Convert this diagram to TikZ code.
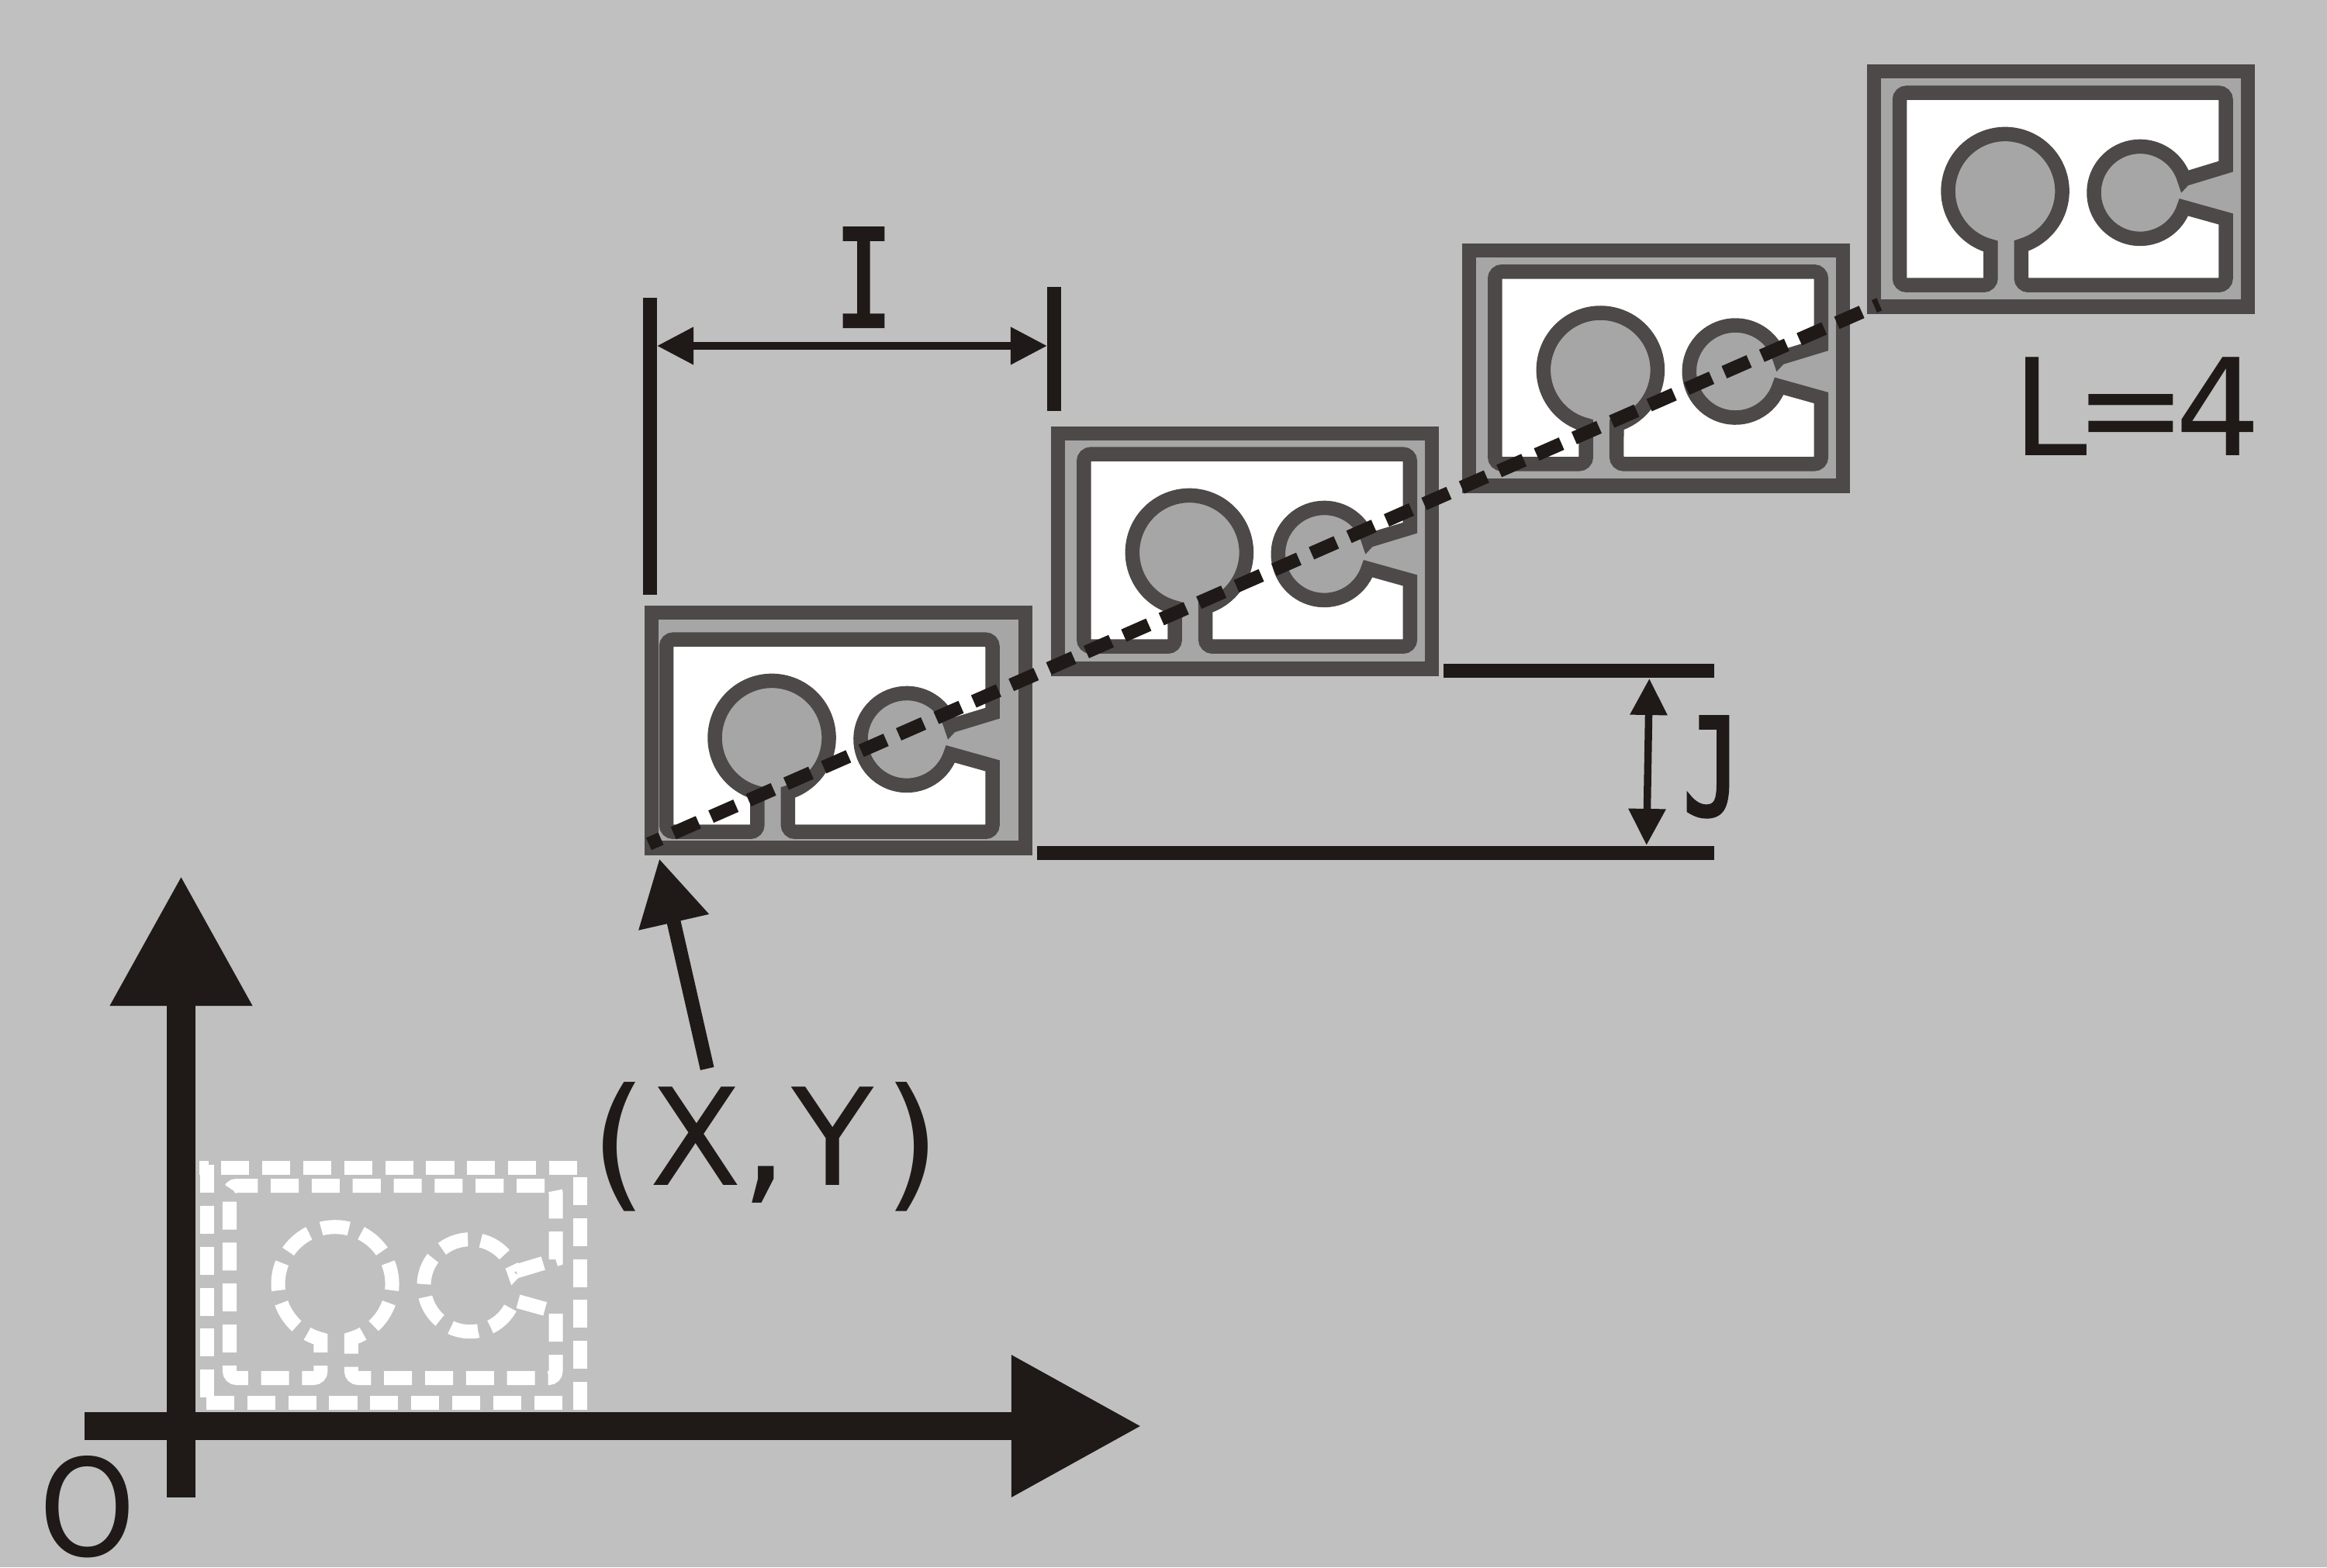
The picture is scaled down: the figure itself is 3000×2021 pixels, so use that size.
\documentclass[tikz,border=0pt]{standalone}
\usepackage{fontspec}
\usetikzlibrary{arrows.meta}
\setmainfont{DejaVu Sans}
\newfontfamily\slabfont[FakeStretch=0.7,FakeBold=2.5]{DejaVu Sans Mono}
\definecolor{bgcol}{HTML}{C0C0C0}
\definecolor{inkcol}{HTML}{1F1A17}
\definecolor{framecol}{HTML}{4D4948}
\definecolor{slotcol}{HTML}{A6A6A6}
\tikzset{
  smalltip/.tip={Triangle[length=0.47cm,width=0.46cm]},
  midtip/.tip={Triangle[length=0.84cm,width=0.88cm]},
  bigtip/.tip={Triangle[length=1.68cm,width=1.73cm]},
  inkline/.style={draw=inkcol,line width=0.18cm},
  label/.style={text=inkcol,inner sep=0pt,outer sep=0pt,font=\fontsize{49.45}{60}\selectfont},
  whitedash/.style={draw=white,line width=0.18cm,dash pattern=on 0.36cm off 0.168cm},
}
\newcommand{\ringpath}{(375.9,145.7) -- (429.5,162) -- (429.5,248) arc[start angle=0,end angle=90,radius=9] -- (18,257) arc[start angle=90,end angle=180,radius=9] -- (9,18) arc[start angle=180,end angle=270,radius=9] -- (117.4,9) arc[start angle=270,end angle=360,radius=9] -- (126.4,59.2) arc[start angle=255.3,end angle=-73.5,radius=73.5] -- (165.9,18) arc[start angle=180,end angle=270,radius=9] -- (420.5,9) arc[start angle=270,end angle=360,radius=9] -- (429.5,94.3) -- (375.4,109.4) arc[start angle=-18.5,end angle=-343,radius=59.5] -- cycle}
\newcommand{\slotcell}[4]{%
  \fill[slotcol] (#1,#2) rectangle ++(500,321.7);
  \begin{scope}[shift={(#3,#4)},x=0.01cm,y=0.01cm]
    \filldraw[fill=white,draw=framecol,line width=0.185cm,miter limit=10] \ringpath;
  \end{scope}
  \draw[framecol,line width=0.183cm] (#1+9.15,#2+9.15) rectangle ++(481.7,303.4);
}
\begin{document}
\begin{tikzpicture}[x=0.01cm,y=-0.01cm]
\fill[bgcol] (0,0) rectangle (3000,2021);
\useasboundingbox (0,0) rectangle (3000,2021);

% cells
\slotcell{831}{781}{850}{1081.7}
\slotcell{1355}{550}{1388.3}{842.7}
\slotcell{1885}{314}{1918.3}{607.3}
\slotcell{2407}{83}{2440}{376.7}

% white dashed outline
\draw[whitedash] (266.6,1502) -- (266.6,1803);
\draw[whitedash] (266,1809) -- (750,1809);
\draw[whitedash] (748,1818) -- (748,1506);
\draw[whitedash] (744,1506) -- (257,1506);
\begin{scope}[shift={(287,1786)},x=0.01cm,y=0.01cm]
  \draw[whitedash,dash phase=0.498cm,miter limit=10] \ringpath;
\end{scope}

% dashed line through the cells
\coordinate (linestart) at (836.4,1088.3);
\coordinate (lineend) at (2422.8,392.3);
\draw[draw=inkcol,line width=0.173cm,dash pattern=on 0.35cm off 0.178cm,dash phase=0.18cm] (linestart) -- (lineend);

% axes
\coordinate (yfoot) at (233.5,1930.7);
\coordinate (ytip) at (233.5,1129);
\coordinate (xfoot) at (109,1839);
\coordinate (xtip) at (1472,1839);
\draw[draw=inkcol,line width=0.37cm,-{bigtip}] (yfoot) -- (ytip);
\draw[draw=inkcol,line width=0.36cm,-{bigtip}] (xfoot) -- (xtip);

% pointer to (X,Y)
\coordinate (ptail) at (911.7,1378);
\coordinate (ptip) at (850,1107.3);
\draw[inkline,-{midtip}] (ptail) -- (ptip);

% I dimension
\coordinate (ia) at (838,384);
\coordinate (ib) at (838,766.7);
\coordinate (ic) at (1359,370);
\coordinate (id) at (1359,530);
\coordinate (ie) at (847,446);
\coordinate (if) at (1350,446);
\draw[inkline] (ia) -- (ib);
\draw[inkline] (ic) -- (id);
\draw[draw=inkcol,line width=0.1cm,{smalltip}-{smalltip}] (ie) -- (if);

% J dimension
\coordinate (ja) at (1861,865);
\coordinate (jb) at (2210,865);
\coordinate (jc) at (1337,1099.5);
\coordinate (jd) at (2210,1099.5);
\coordinate (je) at (2126.3,875);
\coordinate (jf) at (2122.7,1090);
\draw[inkline] (ja) -- (jb);
\draw[inkline] (jc) -- (jd);
\draw[draw=inkcol,line width=0.095cm,{smalltip}-{smalltip}] (je) -- (jf);

% labels
\node[label,anchor=base] (ilabel) at (1113.5,421) {\slabfont I};
\node[label,anchor=base] (jlabel) at (2207,1051) {\slabfont J};
\node[label,anchor=base west] (xylabel) at (761,1528.7) {\raisebox{-0.09cm}{\fontsize{53.2}{60}\selectfont (}\kern0.04cm X\kern-0.03cm{\fontsize{56}{60}\selectfont ,}\kern0.04cm Y\kern0.13cm\raisebox{-0.09cm}{\fontsize{53.2}{60}\selectfont )}};
\node[label,anchor=base west] (llabel) at (2594,587.7) {L\kern-0.16cm =\kern-0.16cm 4};
\node[label,anchor=base,xscale=0.91] (olabel) at (113,2006) {O};
\end{tikzpicture}
\end{document}
